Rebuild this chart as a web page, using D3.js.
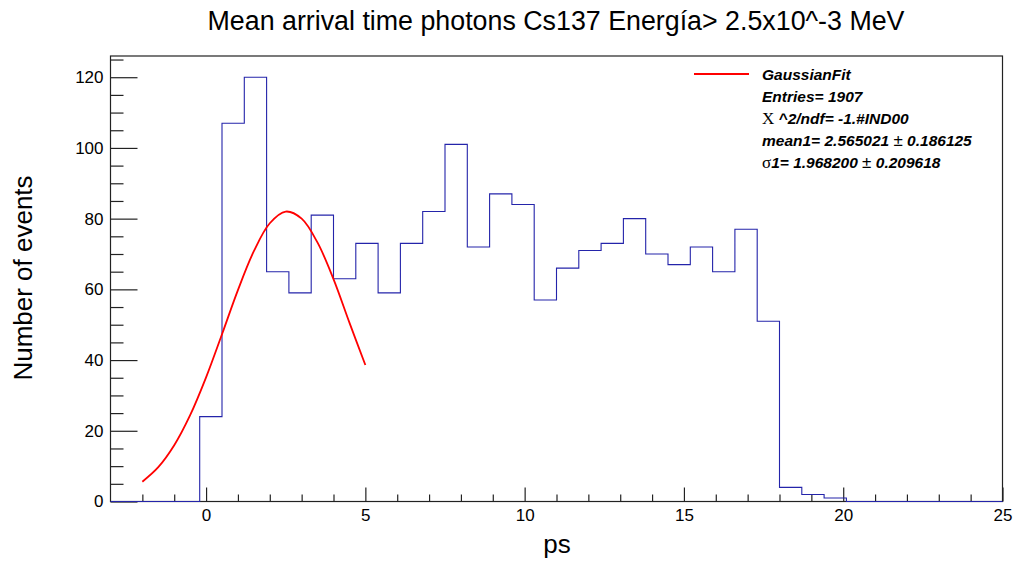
<!DOCTYPE html>
<html><head><meta charset="utf-8">
<script src="https://cdn.jsdelivr.net/npm/d3@7"></script>
<style>
body{margin:0;background:#fff}
svg{display:block}
text{font-family:"Liberation Sans",Arial,Helvetica,sans-serif;fill:#000}
</style>
</head><body>
<svg id="c" width="1016" height="562"></svg>
<script>
// ---- data ----
const binStart = -3;
const binWidth = 0.7;
const counts = [0,0,0,0,24,107,120,65,59,81,63,73,59,73,82,101,72,87,84,57,66,71,73,80,70,67,72,65,77,51,4,2,1,0,0,0,0,0,0,0];
const fitX = [-2,-1.5,-1,-0.5,0,0.5,1,1.5,2,2.5,3,3.5,4,4.5,5];
const fitY = [5.6,9.7,15.9,24.4,35.1,47.3,59.8,70.8,78.7,82.0,80.0,73.2,62.9,50.6,38.6];
const xMajor = [0,5,10,15,20,25];
const xMinor = [-2,-1,1,2,3,4,6,7,8,9,11,12,13,14,16,17,18,19,21,22,23,24];
const yMajor = [0,20,40,60,80,100,120];
const yMinor = [5,10,15,25,30,35,45,50,55,65,70,75,85,90,95,105,110,115,125];
const titleText = "Mean arrival time photons Cs137 Energía> 2.5x10^-3 MeV";
const xLabel = "ps";
const yLabel = "Number of events";
const legendName = "GaussianFit";
const statsRows = [
  [["Entries= 1907","b"]],
  [["X","s"],[" ^2/ndf= -1.#IND00","b"]],
  [["mean1= 2.565021 ","b"],["±","r"],[" 0.186125","b"]],
  [["σ","s"],["1= 1.968200 ","b"],["±","r"],[" 0.209618","b"]]
];

// ---- setup ----
const svg = d3.select("#c");
const x = d3.scaleLinear().domain([-3,25]).range([110.5,1002.5]);
const y = d3.scaleLinear().domain([0,126]).range([501.5,56]);

// frame
svg.append("rect").attr("x",x(-3)).attr("y",y(126))
  .attr("width",x(25)-x(-3)).attr("height",y(0)-y(126))
  .attr("fill","none").attr("stroke","#222").attr("stroke-width",1.2);

// axes
function styleAxis(g){
  g.select(".domain").remove();
  g.selectAll(".tick line").attr("stroke","#222").attr("stroke-width",1.2);
  g.selectAll(".tick text").style("font-size","17px").attr("fill","#000");
}
svg.append("g").attr("transform",`translate(0,${y(0)})`)
  .call(d3.axisBottom(x).tickValues(xMajor).tickSize(-14).tickPadding(7).tickFormat(d3.format("d")))
  .call(styleAxis);
svg.append("g").attr("transform",`translate(0,${y(0)})`)
  .call(d3.axisBottom(x).tickValues(xMinor).tickSize(-7).tickFormat(""))
  .call(styleAxis);
svg.append("g").attr("transform",`translate(${x(-3)},0)`)
  .call(d3.axisLeft(y).tickValues(yMajor).tickSize(-27).tickPadding(7).tickFormat(d3.format("d")))
  .call(styleAxis);
svg.append("g").attr("transform",`translate(${x(-3)},0)`)
  .call(d3.axisLeft(y).tickValues(yMinor).tickSize(-13).tickFormat(""))
  .call(styleAxis);

// histogram outline
const pts = [];
counts.forEach((c,i)=>{
  const x0 = binStart + i*binWidth, x1 = x0 + binWidth;
  pts.push([x0,c]); pts.push([x1,c]);
});
const stepLine = d3.line().x(d=>x(d[0])).y(d=>y(d[1]));
svg.append("path").datum(pts).attr("d",stepLine)
  .attr("fill","none").attr("stroke","#2424aa").attr("stroke-width",1.1);

// fit curve
const fitPts = fitX.map((v,i)=>[v,fitY[i]]);
svg.append("path").datum(fitPts)
  .attr("d",d3.line().x(d=>x(d[0])).y(d=>y(d[1])).curve(d3.curveCatmullRom.alpha(0.5)))
  .attr("fill","none").attr("stroke","#ff0000").attr("stroke-width",1.8);

// title and labels
svg.append("text").attr("x",556).attr("y",30).attr("text-anchor","middle")
  .style("font-size","27px").attr("textLength",697).attr("lengthAdjust","spacingAndGlyphs").text(titleText);
svg.append("text").attr("x",557).attr("y",553).attr("text-anchor","middle")
  .style("font-size","26px").text(xLabel);
svg.append("text").attr("transform","translate(32,278) rotate(-90)").attr("text-anchor","middle")
  .style("font-size","26px").text(yLabel);

// legend / stats
svg.append("line").attr("x1",694).attr("x2",749).attr("y1",74).attr("y2",74)
  .attr("stroke","#ff0000").attr("stroke-width",2);
const lt = svg.append("g").style("font-size","15.5px");
lt.append("text").attr("x",762).attr("y",80).style("font-weight","bold").style("font-style","italic").text(legendName);
statsRows.forEach((row,i)=>{
  const t = lt.append("text").attr("x",762).attr("y",102+22*i);
  row.forEach(([s,k])=>{
    const ts = t.append("tspan").text(s);
    if(k==="b"){ts.style("font-weight","bold").style("font-style","italic");}
    else if(k==="s"){ts.style("font-family","'Liberation Serif',serif").style("font-weight","normal").style("font-size","17px");}
    else {ts.style("font-weight","normal").style("font-size","17px");}
  });
});
</script>
</body></html>
